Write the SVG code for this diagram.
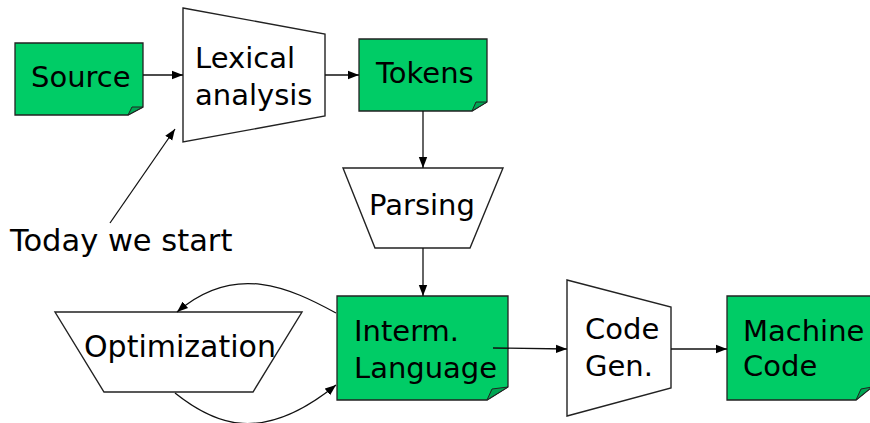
<svg xmlns="http://www.w3.org/2000/svg" width="870" height="423" viewBox="0 0 870 423">
<defs>
<marker id="ah" markerUnits="userSpaceOnUse" markerWidth="12" markerHeight="10" viewBox="0 0 12 10" refX="11" refY="5" orient="auto">
<path d="M0,0.8 L11,5 L0,9.2 Z" fill="#000"/>
</marker>
<style>
.doc{fill:#00cc66;stroke:#222;stroke-width:1.3}
.fold{fill:#00a653;stroke:#222;stroke-width:1}
.proc{fill:#fff;stroke:#222;stroke-width:1.4}
.t{font-family:"DejaVu Sans","Liberation Sans",sans-serif;font-size:29px;fill:#000}
.c{fill:none;stroke:#111;stroke-width:1.3;marker-end:url(#ah)}
</style>
</defs>
<rect width="870" height="423" fill="#fff"/>
<g id="source">
<path class="doc" d="M15,43 H143 V107 L128,115 H15 Z"/>
<path class="fold" d="M128,115 L132,107 L143,107 Z"/>
<text class="t" x="31" y="87">Source</text>
</g>
<g id="lexical">
<path class="proc" d="M183,8 L325,34 V116 L183,142 Z"/>
<text class="t" x="195" y="68">Lexical</text>
<text class="t" x="195" y="105">analysis</text>
</g>
<g id="tokens">
<path class="doc" d="M359,39 H487 V102 L472,111 H359 Z"/>
<path class="fold" d="M472,111 L476,102 L487,102 Z"/>
<text class="t" x="376" y="83">Tokens</text>
</g>
<g id="parsing">
<path class="proc" d="M343,168 H503 L470,248 H375 Z"/>
<text class="t" x="369" y="215">Parsing</text>
</g>
<g id="interm">
<path class="doc" d="M337,296 H508 V387 L487,400 H337 Z"/>
<path class="fold" d="M487,400 L492,389 L508,387 Z"/>
<text class="t" x="354" y="341">Interm.</text>
<text class="t" x="354" y="378">Language</text>
</g>
<g id="optimization">
<path class="proc" d="M55,312 H302 L253,392 H104 Z"/>
<text class="t" x="84" y="357" style="font-size:30px">Optimization</text>
</g>
<g id="codegen">
<path class="proc" d="M567,280 L671,307 V388 L567,416 Z"/>
<text class="t" x="585" y="339">Code</text>
<text class="t" x="585" y="376">Gen.</text>
</g>
<g id="machine">
<path class="doc" d="M727,296 H872 V387 L856,400 H727 Z"/>
<path class="fold" d="M856,400 L861,389 L872,387 Z"/>
<text class="t" x="743" y="341">Machine</text>
<text class="t" x="743" y="376">Code</text>
</g>
<g id="note">
<text class="t" x="10" y="251" style="font-size:30.5px">Today we start</text>
</g>
<g id="connectors">
<line class="c" x1="143" y1="75" x2="183" y2="75"/>
<line class="c" x1="325" y1="75" x2="359" y2="75"/>
<line class="c" x1="423" y1="111" x2="423" y2="168"/>
<line class="c" x1="423" y1="248" x2="423" y2="296"/>
<line class="c" x1="493" y1="348" x2="567" y2="349"/>
<line class="c" x1="671" y1="349" x2="727" y2="349"/>
<line class="c" x1="110" y1="223" x2="175" y2="129"/>
<path class="c" d="M336,313 C290,288 235,262 177,312"/>
<path class="c" d="M175,393 C215,425 262,445 336,385"/>
</g>
</svg>
